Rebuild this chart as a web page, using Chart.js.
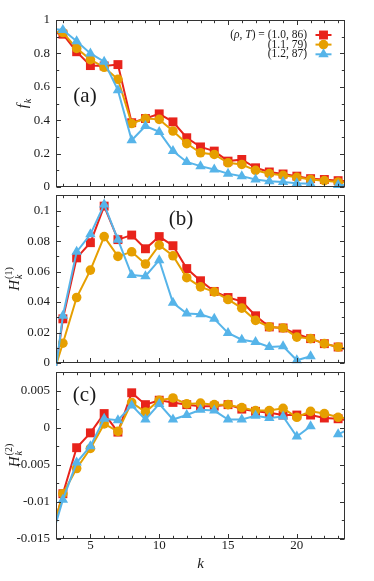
<!DOCTYPE html>
<html><head><meta charset="utf-8">
<script src="https://cdn.jsdelivr.net/npm/chart.js@4.4.1/dist/chart.umd.min.js"></script>
<style>
html,body{margin:0;padding:0;background:#fff;width:374px;height:581px;overflow:hidden;position:relative}
canvas{position:absolute;left:0}
</style></head><body>
<canvas id="ca" width="374" height="190" style="top:0px;width:374px;height:190px"></canvas>
<canvas id="cb" width="374" height="176" style="top:190px;width:374px;height:176px"></canvas>
<canvas id="cc" width="374" height="215" style="top:366px;width:374px;height:215px"></canvas>
<script>
// ---- data ----
const kValues = [2,3,4,5,6,7,8,9,10,11,12,13,14,15,16,17,18,19,20,21,22,23,24];
const seriesLabels = ['(1.0, 86)','(1.1, 79)','(1.2, 87)'];
// panel (a): f_k
const fRho10 = [0.93,0.915,0.81,0.727,0.725,0.733,0.385,0.41,0.438,0.39,0.295,0.24,0.215,0.155,0.165,0.115,0.09,0.078,0.065,0.05,0.045,0.038,0.033];
const fRho11 = [0.93,0.925,0.83,0.763,0.717,0.645,0.38,0.41,0.405,0.335,0.26,0.205,0.195,0.145,0.135,0.10,0.08,0.07,0.058,0.045,0.038,0.03,0.025];
const fRho12 = [0.95,0.94,0.873,0.80,0.75,0.58,0.28,0.365,0.33,0.215,0.15,0.125,0.105,0.08,0.065,0.045,0.035,0.03,0.022,0.02,null,0.012,0.008];
// panel (b): H_k^(1)
const h1Rho10 = [-0.035,0.029,0.069,0.079,0.103,0.081,0.084,0.075,0.083,0.077,0.062,0.054,0.047,0.043,0.0405,0.031,0.0237,0.023,0.019,0.016,0.0127,0.0105,0.008];
const h1Rho11 = [-0.016,0.013,0.043,0.061,0.083,0.070,0.073,0.065,0.0774,0.0704,0.056,0.050,0.0467,0.0417,0.036,0.028,0.0237,0.023,0.017,0.016,0.0127,0.0105,0.008];
const h1Rho12 = [-0.038,0.031,0.073,0.0845,0.104,0.081,0.0577,0.057,0.0675,0.0395,0.0325,0.032,0.029,0.0197,0.0153,0.0138,0.0105,0.011,0.0018,0.0044,null,null,null];
// panel (c): H_k^(2)
const h2Rho10 = [-0.0156,-0.0089,-0.0027,-0.0007,0.0019,-0.0006,0.0047,0.0031,0.0037,0.0034,0.0031,0.0029,0.0029,0.0031,0.0025,0.0022,0.002,0.0017,0.0017,0.0017,0.0013,0.0012,0.0009];
const h2Rho11 = [-0.0155,-0.0089,-0.0055,-0.0028,0.0005,-0.0005,0.0034,0.0021,0.0037,0.004,0.0032,0.0033,0.0031,0.0031,0.0027,0.0023,0.0023,0.0026,0.0014,0.0022,0.0019,0.0014,0.0012];
const h2Rho12 = [-0.016,-0.0097,-0.0047,-0.0025,0.0012,0.001,0.003,0.0011,0.0032,0.0011,0.0017,0.0024,0.0023,0.0011,0.0011,0.0016,0.0013,0.0015,-0.0012,0.0002,null,-0.0009,0.0];
// ticks
const xTickValues = [5,10,15,20];
const xMinorValues = [3,4,6,7,8,9,11,12,13,14,16,17,18,19,21,22,23];
const fTickValues = [0,0.2,0.4,0.6,0.8,1];
const fTickLabels = ['0','0.2','0.4','0.6','0.8','1'];
const fMinorValues = [0.1,0.3,0.5,0.7,0.9];
const h1TickValues = [0,0.02,0.04,0.06,0.08,0.1];
const h1TickLabels = ['0','0.02','0.04','0.06','0.08','0.1'];
const h1MinorValues = [0.01,0.03,0.05,0.07,0.09];
const h2TickValues = [-0.015,-0.01,-0.005,0,0.005];
const h2TickLabels = ['-0.015','-0.01','-0.005','0','0.005'];
const h2MinorValues = [-0.0125,-0.0075,-0.0025,0.0025];

// ---- styles ----
const COLORS = ['#e8231b','#e69f00','#56b4e9'];
const STYLES = ['rect','circle','triangle'];
const RADII = [6.3,4.8,6.0];
const SERIF = "'Liberation Serif','Times New Roman',serif";
const INK = '#1a1a1a';

function mkData(arr){ return kValues.map((k,i)=>({x:k,y:arr[i]})); }
function mkDatasets(arrs){
  return arrs.map((a,i)=>({
    label: seriesLabels[i],
    data: mkData(a),
    borderColor: COLORS[i], backgroundColor: COLORS[i],
    borderWidth: 2, tension: 0,
    pointStyle: STYLES[i], pointRadius: RADII[i], pointBorderWidth: 0,
    pointBackgroundColor: COLORS[i],
    spanGaps: false,
    order: 3 - i,
    clip: {left:0, right:0, top:8, bottom:8}
  }));
}

function drawMarker(ctx, style, x, y, r, color){
  ctx.fillStyle = color;
  ctx.beginPath();
  if (style === 'rect'){ const s = r*Math.SQRT1_2; ctx.rect(x-s,y-s,2*s,2*s); }
  else if (style === 'circle'){ ctx.arc(x,y,r,0,Math.PI*2); }
  else {
    let a = 0;
    ctx.moveTo(x+Math.sin(a)*r, y-Math.cos(a)*r); a += 2*Math.PI/3;
    ctx.lineTo(x+Math.sin(a)*r, y-Math.cos(a)*r); a += 2*Math.PI/3;
    ctx.lineTo(x+Math.sin(a)*r, y-Math.cos(a)*r); ctx.closePath();
  }
  ctx.fill();
}

const framePlugin = {
  id: 'frame',
  afterDatasetsDraw(chart, args, opts){
    const {ctx, chartArea:a, scales:{x, y}} = chart;
    ctx.save();
    ctx.strokeStyle = '#333'; ctx.lineWidth = 1;
    const L = Math.round(a.left)+0.5, R = Math.round(a.right)-0.5, T = Math.round(a.top)+0.5, B = Math.round(a.bottom)-0.5;
    ctx.beginPath();
    const tick = (len, vals, isX) => {
      vals.forEach(v=>{
        if (isX){
          const p = Math.round(x.getPixelForValue(v))+0.5;
          ctx.moveTo(p,B); ctx.lineTo(p,B-len);
          ctx.moveTo(p,T); ctx.lineTo(p,T+len);
        } else {
          const p = Math.round(y.getPixelForValue(v))+0.5;
          ctx.moveTo(L,p); ctx.lineTo(L+len,p);
          ctx.moveTo(R,p); ctx.lineTo(R-len,p);
        }
      });
    };
    tick(4.5, xTickValues, true);
    tick(2.7, xMinorValues, true);
    tick(4.5, opts.yMajor, false);
    tick(2.7, opts.yMinor, false);
    ctx.stroke();
    ctx.strokeRect(L, T, R-L, B-T);
    ctx.restore();
  },
  afterDraw(chart, args, opts){
    const {ctx, chartArea:a} = chart;
    const top0 = opts.canvasTop;
    ctx.save();
    ctx.fillStyle = INK;
    // panel label
    ctx.font = '21px ' + SERIF;
    ctx.textAlign = 'center'; ctx.textBaseline = 'middle';
    ctx.fillText(opts.panel, opts.panelX, opts.panelY - top0);
    // y title (rotated)
    const cy = (a.top + a.bottom)/2;
    ctx.translate(opts.titleX, cy);
    ctx.rotate(-Math.PI/2);
    ctx.textAlign = 'left'; ctx.textBaseline = 'alphabetic';
    const mainF = 'italic 15px ' + SERIF, subF = 'italic 10px ' + SERIF, supF = '10px ' + SERIF;
    ctx.font = mainF; const wm = ctx.measureText(opts.ymain).width;
    ctx.font = subF; const ws = ctx.measureText('k').width;
    let wsup = 0;
    if (opts.ysup){ ctx.font = supF; wsup = ctx.measureText(opts.ysup).width; }
    const total = wm + 1 + Math.max(ws, wsup);
    let u = -total/2;
    ctx.font = mainF; ctx.fillText(opts.ymain, u, 0);
    u += wm + 1;
    ctx.font = subF; ctx.fillText('k', u, 3.5);
    if (opts.ysup){ ctx.font = supF; ctx.fillText(opts.ysup, u, -7); }
    ctx.restore();
    if (opts.legend){
      const ys = [35, 44.6, 54.3];
      const right = 307;
      const partsFirst = [['(',false],['ρ',true],[', ',false],['T',true],[') = ',false],[seriesLabels[0],false]];
      const lines = [partsFirst, [[seriesLabels[1],false]], [[seriesLabels[2],false]]];
      lines.forEach((parts, i)=>{
        ctx.save();
        ctx.fillStyle = INK;
        ctx.textBaseline = 'middle'; ctx.textAlign = 'left';
        let w = 0;
        parts.forEach(([t,it])=>{ ctx.font = (it?'italic ':'') + '11.5px ' + SERIF; w += ctx.measureText(t).width; });
        let xx = right - w;
        parts.forEach(([t,it])=>{ ctx.font = (it?'italic ':'') + '11.5px ' + SERIF; ctx.fillText(t, xx, ys[i]); xx += ctx.measureText(t).width; });
        ctx.strokeStyle = COLORS[i]; ctx.lineWidth = 2;
        ctx.beginPath(); ctx.moveTo(315.5, ys[i]); ctx.lineTo(331.5, ys[i]); ctx.stroke();
        drawMarker(ctx, STYLES[i], 323.5, ys[i], RADII[i], COLORS[i]);
        ctx.restore();
      });
    }
    if (opts.xtitle){
      ctx.save();
      ctx.fillStyle = INK;
      ctx.font = 'italic 15px ' + SERIF;
      ctx.textAlign = 'center'; ctx.textBaseline = 'middle';
      ctx.fillText('k', (a.left + a.right)/2, 564 - top0);
      ctx.restore();
    }
  }
};

function makeChart(id, arrs, yMin, yMax, yTicks, yLabels, yMinor, padTop, padBottom, showX, frameOpts){
  return new Chart(document.getElementById(id), {
    type: 'line',
    data: { datasets: mkDatasets(arrs) },
    options: {
      responsive: false, maintainAspectRatio: false, animation: false, devicePixelRatio: 1,
      layout: { padding: {top: padTop, bottom: padBottom, left: 0, right: 29}, autoPadding: false },
      plugins: { legend: {display:false}, tooltip: {enabled:false}, frame: frameOpts },
      events: [],
      scales: {
        x: {
          type: 'linear', min: 2.5, max: 23.5, display: showX,
          grid: {display:false, drawTicks:false}, border: {display:false},
          ticks: {font:{family:SERIF, size:13}, color: INK, padding: -1, maxRotation: 0, autoSkip: false},
          afterBuildTicks: s => { s.ticks = xTickValues.map(v=>({value:v})); },
          afterFit: s => { s.height = showX ? 42 : 0; s.paddingLeft = 0; s.paddingRight = 0; }
        },
        y: {
          type: 'linear', min: yMin, max: yMax,
          grid: {display:false, drawTicks:false}, border: {display:false},
          ticks: {font:{family:SERIF, size:13}, color: INK, padding: 6, autoSkip:false,
                  callback: (v, i) => yLabels[i]},
          afterBuildTicks: s => { s.ticks = yTicks.map(v=>({value:v})); },
          afterFit: s => { s.width = 56; s.paddingTop = 0; s.paddingBottom = 0; }
        }
      }
    },
    plugins: [framePlugin]
  });
}

makeChart('ca', [fRho10, fRho11, fRho12], 0, 1, fTickValues, fTickLabels, fMinorValues, 20, 3, false,
  {canvasTop: 0, yMajor: fTickValues, yMinor: fMinorValues, panel: '(a)', panelX: 85, panelY: 96.5, titleX: 27, ymain: 'f', legend: true});
makeChart('cb', [h1Rho10, h1Rho11, h1Rho12], 0, 0.1103, h1TickValues, h1TickLabels, h1MinorValues, 5, 3, false,
  {canvasTop: 190, yMajor: h1TickValues, yMinor: h1MinorValues, panel: '(b)', panelX: 181, panelY: 219.5, titleX: 18.5, ymain: 'H', ysup: '(1)'});
makeChart('cc', [h2Rho10, h2Rho11, h2Rho12], -0.015, 0.0075, h2TickValues, h2TickLabels, h2MinorValues, 6, 0, true,
  {canvasTop: 366, yMajor: h2TickValues, yMinor: h2MinorValues, panel: '(c)', panelX: 84.5, panelY: 395, titleX: 18.5, ymain: 'H', ysup: '(2)', xtitle: true});
</script>
</body></html>
